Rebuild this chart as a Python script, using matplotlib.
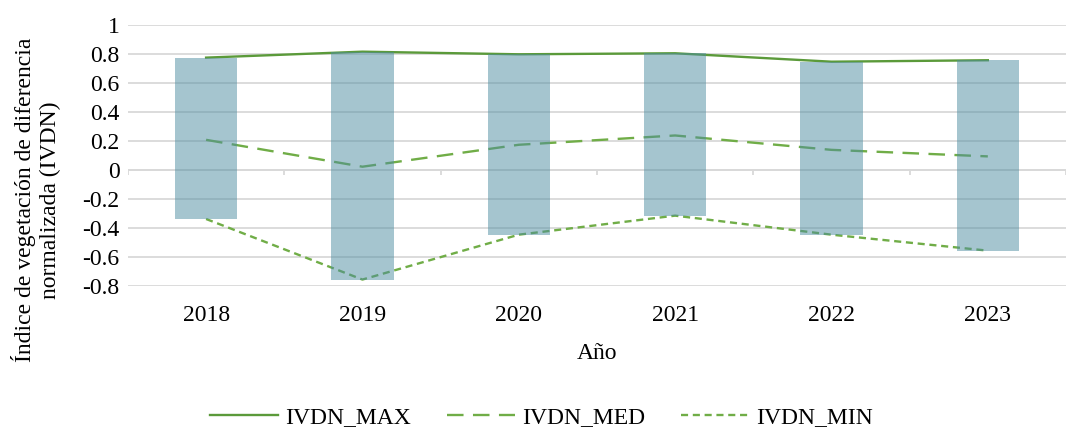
import numpy as np
import matplotlib
matplotlib.use("Agg")
import matplotlib.pyplot as plt

plt.rcParams['font.family'] = ['Liberation Serif', 'DejaVu Serif']

# valores
years = ['2018', '2019', '2020', '2021', '2022', '2023']
ivdn_max = [0.772, 0.813, 0.795, 0.802, 0.744, 0.754]
ivdn_med = [0.206, 0.021, 0.172, 0.236, 0.137, 0.092]
ivdn_min = [-0.339, -0.756, -0.447, -0.316, -0.447, -0.557]
y_ticks = [-0.8, -0.6, -0.4, -0.2, 0, 0.2, 0.4, 0.6, 0.8, 1]
y_labels = ['-0.8', '-0.6', '-0.4', '-0.2', '0', '0.2', '0.4', '0.6', '0.8', '1']

grid_col = '#d9d9d9'
fs = 17

fig = plt.figure(figsize=(10.66, 4.30), dpi=100)
ax = fig.add_axes([0.120, 0.335, 0.880, 0.608])

x = np.arange(len(years))
heights = np.array(ivdn_max) - np.array(ivdn_min)

ax.plot(x, ivdn_max, color='#5b9a3a', lw=1.7, label='IVDN_MAX', zorder=3)
ax.plot(x, ivdn_med, color='#70ad47', lw=1.7, dashes=(7, 4), label='IVDN_MED', zorder=3)
ax.plot(x, ivdn_min, color='#70ad47', lw=1.7, dashes=(3, 2), label='IVDN_MIN', zorder=3)
# barras flotantes de min a max, semitransparentes por encima de las lineas
ax.bar(x, heights, bottom=ivdn_min, width=0.4, color='#4d8da1', alpha=0.5, zorder=4)

ax.set_ylim(-0.8, 1.0)
ax.set_xlim(-0.5, len(years) - 0.5)
ax.set_yticks(y_ticks)
ax.set_yticklabels(y_labels, fontsize=fs)
ax.set_xticks(x)
ax.set_xticklabels(years, fontsize=fs)
ax.tick_params(axis='both', length=0, pad=6)
ax.tick_params(axis='x', pad=14)

for s in ax.spines.values():
    s.set_visible(False)
ax.yaxis.grid(True, color=grid_col, lw=1.3, zorder=0)
ax.axhline(0, color=grid_col, lw=1.3, zorder=1)
bounds = np.arange(-0.5, len(years) + 0.5, 1.0)
ax.vlines(bounds, -0.035, 0, color=grid_col, lw=1.3, zorder=1)

ax.set_xlabel('Año', fontsize=fs, labelpad=12)
fig.text(0.034, 0.535, 'Índice de vegetación de diferencia\nnormalizada (IVDN)',
         rotation=90, ha='center', va='center', multialignment='center',
         fontsize=fs, linespacing=1.25)

fig.legend(loc='center', ncol=3, frameon=False, fontsize=fs,
           handlelength=2.9, handletextpad=0.3, columnspacing=1.5,
           bbox_to_anchor=(0.508, 0.03))

fig.savefig('out.png', dpi=100)
